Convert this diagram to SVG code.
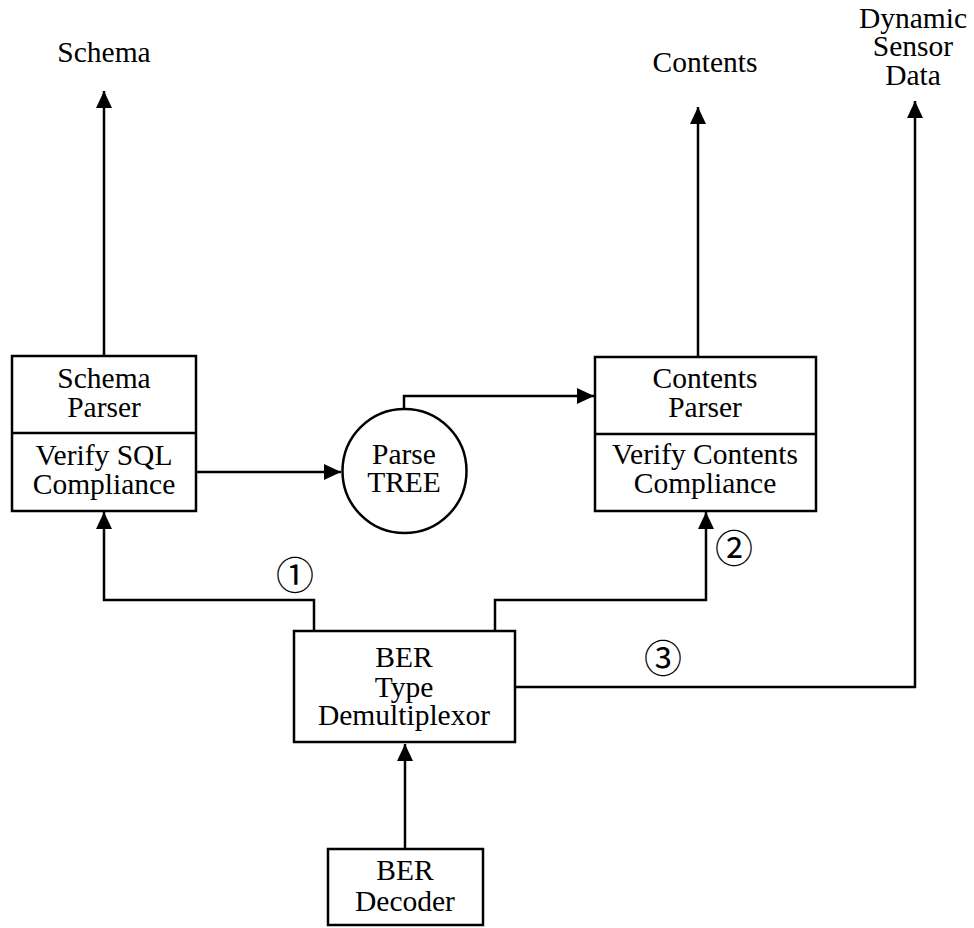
<svg xmlns="http://www.w3.org/2000/svg" width="974" height="928" viewBox="0 0 974 928">
<style>
text{font-family:"Liberation Serif","Times New Roman",serif;font-size:29.5px;fill:#000;text-anchor:middle}
.num{font-family:"Liberation Serif","Noto Sans CJK JP",serif;font-size:38px}
.box{fill:#fff;stroke:#000;stroke-width:2.5}
.ln{fill:none;stroke:#000;stroke-width:2.5}
</style>
<defs>
<marker id="ah" markerUnits="userSpaceOnUse" markerWidth="18" markerHeight="18" viewBox="0 0 18 18" refX="17" refY="9" orient="auto">
<path d="M0,1 L17,9 L0,17 Z" fill="#000"/>
</marker>
</defs>
<rect width="974" height="928" fill="#fff"/>
<g id="connectors">
<path class="ln" d="M104,356 V91" marker-end="url(#ah)"/>
<path class="ln" d="M698,357 V107" marker-end="url(#ah)"/>
<path class="ln" d="M196,472 H341" marker-end="url(#ah)"/>
<path class="ln" d="M404,409 V396 H594" marker-end="url(#ah)"/>
<path class="ln" d="M314,631 V600 H104 V512" marker-end="url(#ah)"/>
<path class="ln" d="M495,631 V600 H706 V512" marker-end="url(#ah)"/>
<path class="ln" d="M515,687 H915 V101" marker-end="url(#ah)"/>
<path class="ln" d="M405,849 V744" marker-end="url(#ah)"/>
</g>
<g id="label-schema"><text x="104" y="62">Schema</text></g>
<g id="label-contents"><text x="705" y="72">Contents</text></g>
<g id="label-sensor"><text x="913" y="28">Dynamic</text><text x="913" y="56">Sensor</text><text x="913" y="85">Data</text></g>
<g id="schema-parser">
<rect class="box" x="12" y="356" width="184" height="155"/>
<line class="ln" x1="12" y1="433" x2="196" y2="433"/>
<text x="104" y="388">Schema</text><text x="104" y="417">Parser</text>
<text x="104" y="465">Verify SQL</text><text x="104" y="494">Compliance</text>
</g>
<g id="parse-tree">
<circle class="box" cx="404.5" cy="471" r="62"/>
<text x="404" y="464">Parse</text><text x="404" y="492">TREE</text>
</g>
<g id="contents-parser">
<rect class="box" x="595" y="357" width="221" height="154"/>
<line class="ln" x1="595" y1="434" x2="816" y2="434"/>
<text x="705" y="388">Contents</text><text x="705" y="417">Parser</text>
<text x="705" y="464">Verify Contents</text><text x="705" y="493">Compliance</text>
</g>
<g id="demux">
<rect class="box" x="294" y="631" width="221" height="111"/>
<text x="404" y="667">BER</text><text x="404" y="697">Type</text><text x="404" y="725">Demultiplexor</text>
</g>
<g id="decoder">
<rect class="box" x="328" y="849" width="155" height="76"/>
<text x="405" y="880">BER</text><text x="405" y="911">Decoder</text>
</g>
<g id="markers">
<text class="num" x="295" y="589">①</text>
<text class="num" x="734" y="562">②</text>
<text class="num" x="663" y="672">③</text>
</g>
</svg>
